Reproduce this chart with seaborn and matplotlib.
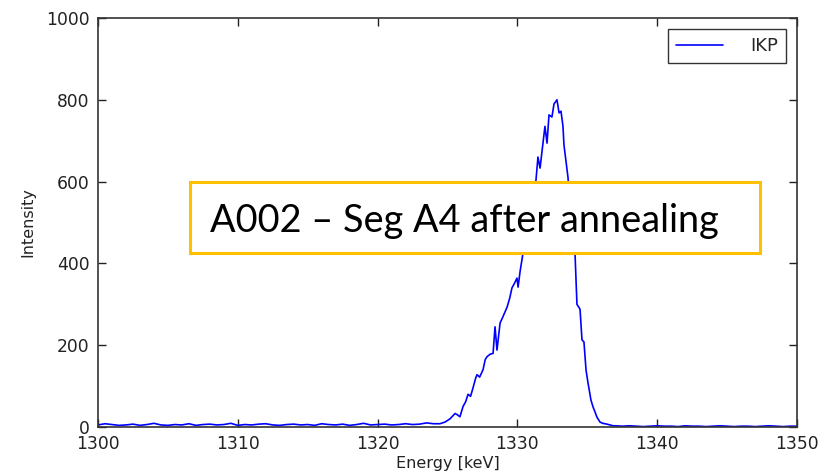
import matplotlib
matplotlib.use("Agg")
import matplotlib.pyplot as plt
import seaborn as sns
import pandas as pd
from matplotlib.patches import Rectangle

# ---- data ----
bg_left_energy = [1300.0 + 0.5 * i for i in range(49)]  # 1300 .. 1324 keV
bg_left_counts = [5, 8, 6, 4, 5, 7, 4, 6, 9, 5, 4, 6, 5, 8, 4, 6, 7, 5, 6, 9,
                  4, 6, 5, 7, 8, 5, 4, 6, 7, 5, 6, 4, 8, 6, 5, 7, 4, 6, 9, 5,
                  6, 7, 5, 6, 8, 6, 7, 10, 8]
peak_energy = [1324.46, 1324.82, 1325.18, 1325.40, 1325.54, 1325.70, 1325.89,
               1326.11, 1326.30, 1326.47, 1326.65, 1326.82, 1327.00, 1327.11,
               1327.30, 1327.54, 1327.70, 1327.83, 1328.05, 1328.26, 1328.40,
               1328.54, 1328.76, 1328.97, 1329.26, 1329.45, 1329.61, 1329.80,
               1329.97, 1330.05, 1330.19, 1330.40, 1330.58, 1330.76, 1330.90,
               1331.04, 1331.20, 1331.33, 1331.47, 1331.62, 1331.83, 1331.97,
               1332.12, 1332.26, 1332.47, 1332.62, 1332.83, 1332.98, 1333.12,
               1333.26, 1333.33, 1333.48, 1333.62, 1333.76, 1333.98, 1334.12,
               1334.26, 1334.48, 1334.62, 1334.76, 1334.91, 1335.05, 1335.26,
               1335.41, 1335.55, 1335.69, 1335.91, 1336.10, 1336.41, 1336.84]
peak_counts = [8, 12, 20, 28, 33, 30, 25, 50, 62, 80, 75, 95, 118, 128, 122,
               140, 165, 172, 178, 180, 245, 188, 254, 270, 293, 315, 340, 352,
               364, 342, 380, 425, 455, 480, 505, 540, 575, 604, 660, 633, 694,
               735, 694, 763, 758, 790, 800, 768, 772, 735, 690, 648, 610, 540,
               450, 425, 300, 288, 213, 208, 139, 108, 66, 49, 37, 24, 12, 9, 7, 3]
bg_right_energy = [1337.0 + 0.5 * i for i in range(27)]  # 1337 .. 1350 keV
bg_right_counts = [3, 2, 3, 2, 1, 2, 3, 2, 2, 1, 3, 2, 2, 1, 2, 3, 2, 1, 2, 2,
                   1, 2, 3, 2, 1, 2, 2]

energy = bg_left_energy + peak_energy + bg_right_energy
counts = bg_left_counts + peak_counts + bg_right_counts
df = pd.DataFrame({"Energy [keV]": energy, "Intensity": counts,
                   "series": ["IKP"] * len(energy)})

# ---- plot ----
sns.set_style("ticks")
plt.rcParams["font.family"] = ["DejaVu Sans"]

fig = plt.figure(figsize=(8.21, 4.71), dpi=100)
ax = fig.add_axes([98 / 821, 1 - 427 / 471, (797 - 98) / 821, (427 - 18) / 471])

sns.lineplot(data=df, x="Energy [keV]", y="Intensity", hue="series",
             palette=["#0000ff"], linewidth=1.2, ax=ax, sort=False)

ax.set_xlim(1300, 1350)
ax.set_ylim(0, 1000)
ax.set_xticks([1300, 1310, 1320, 1330, 1340, 1350])
ax.set_yticks([0, 200, 400, 600, 800, 1000])
ax.tick_params(direction="in", top=True, right=True, length=6, width=1,
               labelsize=12.3, colors="#222222", pad=6)
for s in ax.spines.values():
    s.set_color("#333333")
    s.set_linewidth(1.2)
    s.set_visible(True)
ax.set_xlabel("Energy [keV]", fontsize=11.5, color="#222222", labelpad=2)
ax.set_ylabel("Intensity", fontsize=11.5, color="#222222", labelpad=8)

leg = ax.legend(loc="upper right", fontsize=13, frameon=True, fancybox=False,
                edgecolor="black", borderpad=0.45, handlelength=2.6,
                handletextpad=1.5, borderaxespad=0.6)
leg.get_frame().set_linewidth(1.0)

# annotation box
fig.patches.append(Rectangle((190 / 821, 1 - 253 / 471), (760 - 190) / 821,
                             (253 - 182) / 471, transform=fig.transFigure,
                             facecolor="white", edgecolor="#FFC000",
                             linewidth=2.2, zorder=10))
fig.text(210 / 821, 1 - 221 / 471, "A002 \u2013 Seg A4 after annealing",
         fontsize=27.3, family=["Lato", "DejaVu Sans"], va="center", ha="left",
         color="black", zorder=11)

fig.savefig("out.png", dpi=100)
